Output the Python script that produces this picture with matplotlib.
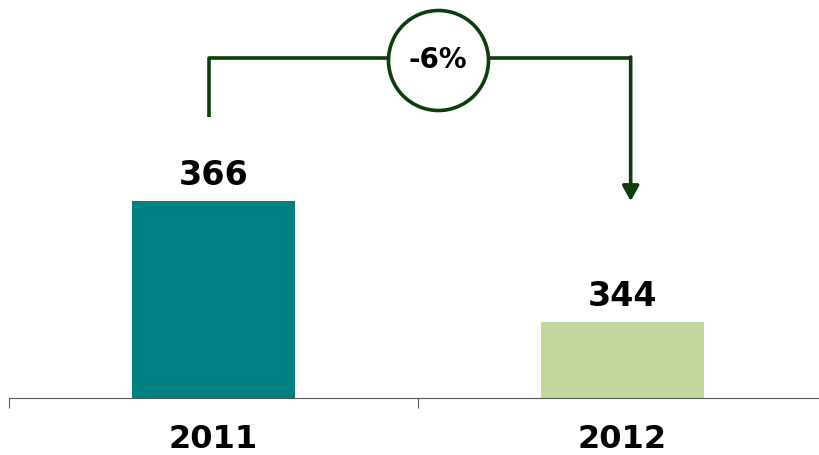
import numpy as np
import matplotlib.pyplot as plt

years = ['2011', '2012']
values = [366, 344]
bar_colors = ['#008080', '#c4d79b']
change_label = '-6%'

line_col = '#0d3d0d'

fig = plt.figure(figsize=(8.2, 4.55), dpi=100)
ax = fig.add_axes([9 / 820, 57 / 455, 818 / 820, 398 / 455])

x = np.arange(len(years))
ax.bar(x, values, width=0.4, color=bar_colors)

# value labels above bars
for xi, v in zip(x, values):
    ax.text(xi, v + 1.6, str(v), ha='center', va='bottom',
            fontsize=24, fontweight='bold', family='DejaVu Sans')

ax.set_xlim(-0.5, 1.5)
ax.set_ylim(330.2, 330.2 + 398 / 5.5)

# category axis with ticks between the bars
ax.set_xticks([-0.5, 0.5, 1.5])
ax.set_xticklabels([])
ax.set_xticks(x, minor=True)
ax.set_xticklabels(years, minor=True, fontsize=23, fontweight='bold',
                   family='DejaVu Sans')
ax.tick_params(axis='x', which='major', direction='out', length=7.5,
               width=0.8, color='#555555')
ax.tick_params(axis='x', which='minor', length=0, pad=19)
ax.set_yticks([])
for s in ['top', 'right', 'left']:
    ax.spines[s].set_visible(False)
ax.spines['bottom'].set_color('#555555')
ax.spines['bottom'].set_linewidth(0.8)

# change bracket from 2011 to 2012
y_top = 392.0
x_left, x_right = -0.01, 1.02
ax.plot([x_left, x_left, x_right], [381.3, y_top, y_top],
        color=line_col, lw=2.6, solid_capstyle='butt', clip_on=False)
ax.annotate('', xy=(x_right, values[0]), xytext=(x_right, y_top + 0.2),
            arrowprops=dict(arrowstyle='-|>,head_length=0.9,head_width=0.5',
                            color=line_col, lw=2.6, shrinkA=0, shrinkB=0))
ax.plot([0.549], [391.7], marker='o', markersize=72, mfc='white',
        mec=line_col, mew=2.6, clip_on=False)
ax.text(0.549, 391.7, change_label, ha='center', va='center',
        fontsize=20, fontweight='bold', family='DejaVu Sans')

fig.savefig('out.png', dpi=100)
